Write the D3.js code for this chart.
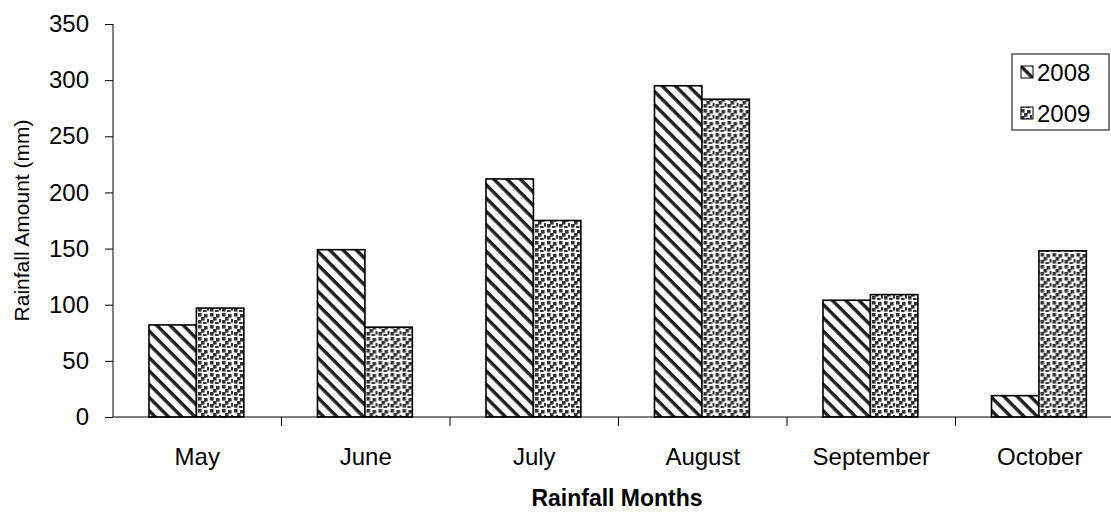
<!DOCTYPE html>
<html><head><meta charset="utf-8">
<script src="https://cdn.jsdelivr.net/npm/d3@7"></script>
<style>html,body{margin:0;padding:0;background:#fff}svg{display:block;font-family:"Liberation Sans",Arial,sans-serif}</style>
</head><body><svg id="c" width="1111" height="513"></svg>
<script>
const months = ["May","June","July","August","September","October"];
const seriesNames = ["2008","2009"];
const values2008 = [82,149,212,295,104,19];
const values2009 = [97,80,175,283,109,148];
const yTicks = [0,50,100,150,200,250,300,350];

(function(){
const svg = d3.select("#c");
const pLeft = 113, pRight = 1124, pTop = 24, pBottom = 417;
const FS = 24;
const defs = svg.append("defs");
const p1 = defs.append("pattern").attr("id","stripe").attr("patternUnits","userSpaceOnUse")
  .attr("width",9.4).attr("height",9.4).attr("patternTransform","rotate(45)");
p1.append("rect").attr("width",9.4).attr("height",9.4).attr("fill","#fff");
p1.append("rect").attr("x",0).attr("y",0).attr("width",9.4).attr("height",3.4).attr("fill","#1e1e1e");
const p2 = defs.append("pattern").attr("id","dots").attr("patternUnits","userSpaceOnUse")
  .attr("width",12).attr("height",12);
p2.append("rect").attr("width",12).attr("height",12).attr("fill","#fff");
[[1,1],[7,2],[4,5],[10,7],[1,8],[6,10]].forEach(([px,py])=>{
  p2.append("rect").attr("x",px).attr("y",py).attr("width",3.6).attr("height",3.6).attr("fill","#333");
});
const fills = {"2008":"url(#stripe)","2009":"url(#dots)"};

const x = d3.scaleBand().domain(months).range([pLeft,pRight]).padding(0);
const step = x.step();
const xi = d3.scaleBand().domain(seriesNames).range([step*0.2135, step*0.7765]).padding(0);
const y = d3.scaleLinear().domain([0,350]).range([pBottom,pTop]);

const data = months.map((m,i)=>({m, vals:[{s:"2008",v:values2008[i]},{s:"2009",v:values2009[i]}]}));
const g = svg.append("g");
g.selectAll("g.grp").data(data).join("g").attr("class","grp").attr("transform",d=>`translate(${x(d.m)},0)`)
 .selectAll("rect").data(d=>d.vals).join("rect")
 .attr("x",d=>xi(d.s)).attr("width",xi.bandwidth())
 .attr("y",d=>y(d.v)).attr("height",d=>y(0)-y(d.v))
 .attr("fill",d=>fills[d.s]).attr("stroke","#000").attr("stroke-width",1.6);

const ya = svg.append("g").attr("transform",`translate(${pLeft},0)`)
 .call(d3.axisLeft(y).tickValues(yTicks).tickSize(8).tickPadding(16));
ya.attr("font-size",FS).attr("font-family","Liberation Sans, Arial, sans-serif");
ya.selectAll("text").attr("fill","#000");
ya.select(".domain").attr("d",`M0,${pTop}V${pBottom}`).attr("stroke","#000");
ya.selectAll(".tick line").attr("stroke","#000");

const xb = d3.scaleLinear().domain([0,months.length]).range([pLeft,pRight]);
svg.append("line").attr("x1",pLeft).attr("x2",1111).attr("y1",pBottom).attr("y2",pBottom).attr("stroke","#000").attr("stroke-width",1.2);
svg.selectAll("line.bt").data(d3.range(1,months.length)).join("line").attr("class","bt")
 .attr("x1",d=>xb(d)).attr("x2",d=>xb(d)).attr("y1",pBottom).attr("y2",pBottom+9).attr("stroke","#000");
const xa = svg.append("g").attr("transform",`translate(0,${pBottom})`)
 .call(d3.axisBottom(x).tickSize(0).tickPadding(31));
xa.attr("font-size",FS).attr("font-family","Liberation Sans, Arial, sans-serif");
xa.select(".domain").remove();
xa.selectAll("text").attr("fill","#000");

svg.append("text").attr("x",617).attr("y",506).attr("text-anchor","middle")
 .attr("font-size",23).attr("font-weight","bold").text("Rainfall Months");
svg.append("text").attr("transform",`translate(29,${(pTop+pBottom)/2}) rotate(-90)`).attr("text-anchor","middle")
 .attr("font-size",21).text("Rainfall Amount (mm)");

const lg = svg.append("g");
lg.append("rect").attr("x",1012).attr("y",54).attr("width",97).attr("height",76).attr("fill","#fff").attr("stroke","#000").attr("stroke-width",1);
seriesNames.forEach((s,i)=>{
  const cy = 72 + i*41;
  lg.append("rect").attr("x",1021).attr("y",cy-6).attr("width",12).attr("height",12).attr("fill",fills[s]).attr("stroke","#000").attr("stroke-width",1);
  lg.append("text").attr("x",1037).attr("y",cy+8.5).attr("font-size",FS).text(s);
});
})();
</script></body></html>
